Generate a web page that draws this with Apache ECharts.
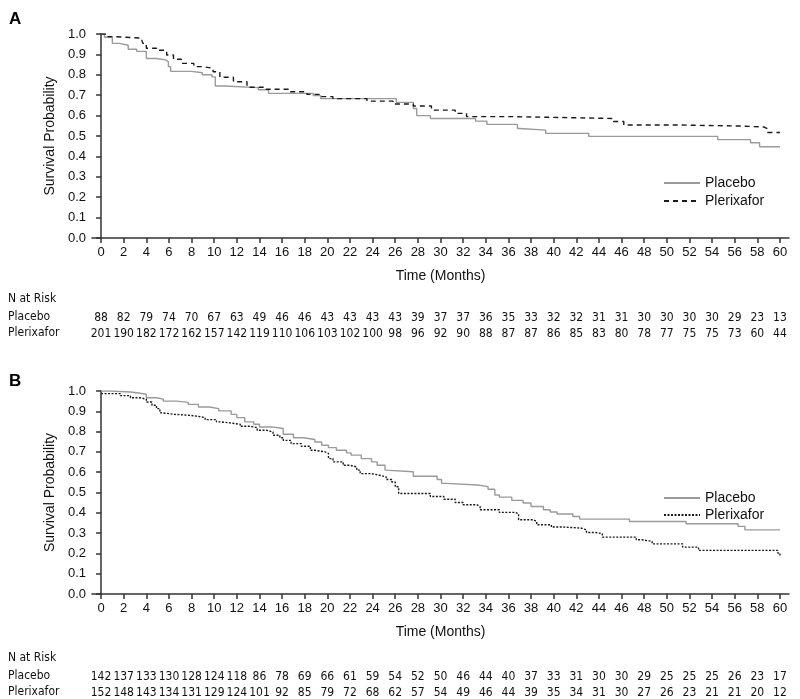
<!DOCTYPE html>
<html>
<head>
<meta charset="utf-8">
<script src="https://cdn.jsdelivr.net/npm/echarts@6/dist/echarts.min.js"></script>
<style>
html,body{margin:0;padding:0;background:#fff;}
#chart{width:800px;height:699px;}
</style>
</head>
<body>
<div id="chart"></div>
<script>
// tick labels on the time axis (months)
var timeTicks = [0,2,4,6,8,10,12,14,16,18,20,22,24,26,28,30,32,34,36,38,40,42,44,46,48,50,52,54,56,58,60];
var probTicks = [0,0.1,0.2,0.3,0.4,0.5,0.6,0.7,0.8,0.9,1.0];

// panel A, Kaplan-Meier steps [month, survival]
var placeboA = [[0,1],[0.3,0.984],[1,0.954],[1.6,0.945],[2.4,0.925],[3.15,0.915],[4,0.88],[4.9,0.873],[5.7,0.864],[5.95,0.84],[6.15,0.817],
  [8,0.81],[8.95,0.8],[9.8,0.79],[10.1,0.745],[10.9,0.737],[13.9,0.727],[14.8,0.709],[18.75,0.698],[19.4,0.683],[26.1,0.665],
  [27.6,0.635],[27.9,0.6],[29.1,0.586],[33.1,0.573],[34.1,0.557],[36.8,0.537],[37,0.529],[39.3,0.513],[43.1,0.498],
  [54.5,0.482],[57.4,0.467],[58.2,0.447],[60,0.447]];
var plerixaforA = [[0,1],[0.5,0.987],[1.2,0.98],[3.6,0.97],[3.7,0.954],[4,0.93],[4.9,0.92],[5.8,0.897],[6.4,0.876],[7.1,0.856],[8.2,0.84],
  [9,0.832],[9.9,0.815],[10.5,0.788],[11.7,0.766],[12.9,0.739],[14.6,0.729],[16.7,0.717],[18.2,0.704],[19.3,0.693],[20.5,0.683],
  [23.5,0.671],[25.8,0.657],[27.6,0.647],[29.2,0.627],[31.3,0.611],[32.3,0.595],[36.2,0.586],[45.3,0.571],[46.2,0.554],
  [50.9,0.549],[56.5,0.544],[58.6,0.536],[58.9,0.517],[60,0.517]];

// panel B
var placeboB = [[0,1],[0.9,0.995],[2.6,0.99],[3.3,0.984],[4,0.967],[4.9,0.96],[5.5,0.95],[6.7,0.944],[7.7,0.934],[8.6,0.921],[9.6,0.913],
  [10.4,0.902],[11.5,0.885],[12,0.869],[12.7,0.848],[13.5,0.836],[14,0.823],[15.1,0.815],[16.1,0.787],[17,0.77],[17.9,0.761],
  [18.9,0.749],[19.5,0.733],[20.1,0.721],[20.8,0.708],[21.7,0.695],[22.1,0.684],[23,0.667],[23.9,0.651],[24.4,0.634],[25.1,0.61],
  [25.2,0.602],[27.6,0.58],[29.7,0.564],[30.1,0.545],[30.5,0.537],[33.3,0.529],[34.2,0.516],[34.8,0.488],[35.2,0.477],[36.3,0.461],
  [37.3,0.448],[38,0.431],[39.1,0.415],[39.7,0.404],[40.3,0.394],[41.7,0.382],[42.3,0.369],[46.7,0.357],[51.7,0.346],[56.3,0.333],
  [56.9,0.316],[60,0.316]];
var plerixaforB = [[0,0.987],[1.7,0.977],[2.6,0.967],[3.4,0.96],[4,0.946],[4.5,0.93],[4.9,0.913],[5.2,0.892],[5.5,0.885],[6.5,0.88],
  [7.9,0.875],[8.6,0.869],[9.2,0.859],[10.2,0.848],[10.5,0.843],[11.4,0.836],[12.3,0.826],[13.2,0.82],[13.8,0.807],[14.6,0.798],
  [15.2,0.782],[15.8,0.77],[16.1,0.757],[16.8,0.741],[17.7,0.728],[18.5,0.708],[18.9,0.7],[19.8,0.692],[20.1,0.667],[20.5,0.651],
  [21.4,0.634],[22,0.626],[22.6,0.61],[22.9,0.593],[23.9,0.585],[24.6,0.577],[25.2,0.564],[25.7,0.552],[26,0.528],[26.3,0.495],
  [29.1,0.48],[30.3,0.467],[31.3,0.451],[32,0.44],[33.2,0.431],[33.5,0.415],[35.2,0.402],[36.6,0.395],[36.9,0.366],[38.2,0.357],
  [38.5,0.341],[39.8,0.33],[40.8,0.325],[42.4,0.316],[42.9,0.303],[43.7,0.297],[44.3,0.28],[47.3,0.267],[47.8,0.259],[48.7,0.247],
  [51.4,0.231],[52.8,0.215],[59.8,0.202],[60,0.185]];

// numbers at risk, one per time tick
var riskPlaceboA = [88,82,79,74,70,67,63,49,46,46,43,43,43,43,39,37,37,36,35,33,32,32,31,31,30,30,30,30,29,23,13];
var riskPlerixaforA = [201,190,182,172,162,157,142,119,110,106,103,102,100,98,96,92,90,88,87,87,86,85,83,80,78,77,75,75,73,60,44];
var riskPlaceboB = [142,137,133,130,128,124,118,86,78,69,66,61,59,54,52,50,46,44,40,37,33,31,30,30,29,25,25,25,26,23,17];
var riskPlerixaforB = [152,148,143,134,131,129,124,101,92,85,79,72,68,62,57,54,49,46,44,39,35,34,31,30,27,26,23,21,21,20,12];

var FONT = "'Liberation Sans', Arial, sans-serif";
var NARROW = "'Liberation Sans Narrow', 'DejaVu Sans Condensed', 'Liberation Sans', sans-serif";
var AXIS = '#333';

function mainX(grid){
  return {
    type:'value', gridIndex:grid, min:-0.8, max:60.8,
    name:'Time (Months)', nameLocation:'middle', nameGap:31,
    nameTextStyle:{fontFamily:FONT, fontSize:14, color:'#111'},
    axisLine:{show:true, onZero:false, lineStyle:{color:AXIS, width:1.5}},
    axisTick:{show:true, length:5, customValues:timeTicks, lineStyle:{color:AXIS, width:1.5}},
    axisLabel:{customValues:timeTicks, fontFamily:FONT, fontSize:13, color:'#111', margin:8},
    splitLine:{show:false}
  };
}
function riskX(grid, arr, offset){
  return {
    type:'value', gridIndex:grid, min:-0.8, max:60.8, position:'bottom', offset:offset,
    axisLine:{show:false}, axisTick:{show:false}, splitLine:{show:false},
    axisLabel:{customValues:timeTicks, margin:0, fontFamily:NARROW, fontSize:12, color:'#111',
      formatter:function(v){ return String(arr[Math.round(v/2)]); }}
  };
}
function mainY(grid){
  return {
    type:'value', gridIndex:grid, min:0, max:1, interval:0.1,
    name:'Survival Probability', nameLocation:'middle', nameGap:29, nameRotate:90,
    nameTextStyle:{fontFamily:FONT, fontSize:14, color:'#111'},
    axisLine:{show:true, lineStyle:{color:AXIS, width:1.5}},
    axisTick:{show:true, length:5, lineStyle:{color:AXIS, width:1.5}},
    axisLabel:{fontFamily:FONT, fontSize:13, color:'#111', margin:6,
      formatter:function(v){ return v.toFixed(1); }},
    splitLine:{show:false}
  };
}
function stepLine(name, data, xi, yi, color, dash){
  return {
    name:name, type:'line', step:'end', data:data, xAxisIndex:xi, yAxisIndex:yi,
    symbol:'none', silent:true,
    lineStyle:{color:color, width:1.4, type:dash},
    itemStyle:{color:color}
  };
}

var myChart = echarts.init(document.getElementById('chart'));
var option = {
  backgroundColor:'#fff',
  animation:false,
  title:[
    {text:'A', left:4, top:6, textStyle:{fontFamily:FONT, fontSize:17, fontWeight:'bold', color:'#000'}},
    {text:'B', left:4, top:368, textStyle:{fontFamily:FONT, fontSize:17, fontWeight:'bold', color:'#000'}}
  ],
  grid:[
    {left:92, right:11, top:34, height:204},
    {left:92, right:11, top:391, height:203}
  ],
  legend:[
    {data:['Placebo','Plerixafor'], orient:'vertical', left:663, top:176, padding:0, itemWidth:36, itemHeight:14, itemGap:4,
      itemStyle:{opacity:0}, textStyle:{fontFamily:FONT, fontSize:14, color:'#111'}, selectedMode:false},
    {data:['Placebo ','Plerixafor '], orient:'vertical', left:663, top:491, padding:0, itemWidth:36, itemHeight:14, itemGap:3,
      itemStyle:{opacity:0}, textStyle:{fontFamily:FONT, fontSize:14, color:'#111'}, selectedMode:false}
  ],
  xAxis:[
    mainX(0),
    riskX(0, riskPlaceboA, 74),
    riskX(0, riskPlerixaforA, 90),
    mainX(1),
    riskX(1, riskPlaceboB, 77),
    riskX(1, riskPlerixaforB, 93)
  ],
  yAxis:[mainY(0), mainY(1)],
  graphic:[
    {type:'text', left:8, top:293, style:{text:'N at Risk', font:'12px '+NARROW, fill:'#111'}},
    {type:'text', left:8, top:311, style:{text:'Placebo', font:'12px '+NARROW, fill:'#111'}},
    {type:'text', left:8, top:327, style:{text:'Plerixafor', font:'12px '+NARROW, fill:'#111'}},
    {type:'text', left:8, top:652, style:{text:'N at Risk', font:'12px '+NARROW, fill:'#111'}},
    {type:'text', left:8, top:670, style:{text:'Placebo', font:'12px '+NARROW, fill:'#111'}},
    {type:'text', left:8, top:686, style:{text:'Plerixafor', font:'12px '+NARROW, fill:'#111'}}
  ],
  series:[
    stepLine('Placebo', placeboA, 0, 0, '#9a9a9a', 'solid'),
    stepLine('Plerixafor', plerixaforA, 0, 0, '#1a1a1a', [5,4]),
    stepLine('Placebo ', placeboB, 3, 1, '#9a9a9a', 'solid'),
    stepLine('Plerixafor ', plerixaforB, 3, 1, '#1a1a1a', [2,1.5])
  ]
};
myChart.setOption(option);
window.onresize = myChart.resize;
</script>
</body>
</html>
